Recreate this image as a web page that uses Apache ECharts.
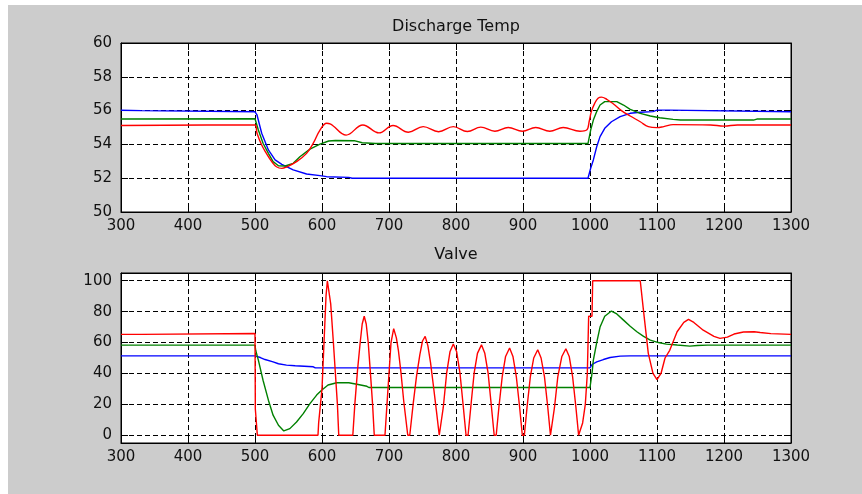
<!DOCTYPE html>
<html><head><meta charset="utf-8">
<script src="https://cdn.jsdelivr.net/npm/echarts@6/dist/echarts.min.js"></script>
<style>
html,body{margin:0;padding:0;background:#fff;}
#wrap{position:relative;width:862px;height:494px;background:#fff;overflow:hidden}
#chart{position:absolute;left:8px;top:5px;width:854px;height:489px;background:#cccccc}
</style></head>
<body><div id="wrap"><div id="chart"></div></div>
<script>
// ---- data (time, value) ----
const plotTitles = ['Discharge Temp', 'Valve'];
const timeRange = [300, 1300];
const tempRange = [50, 60];
const valveRange = [-5, 105];
const valveTicks = [0, 20, 40, 60, 80, 100];

const tempBlue = [[300,56.02],[330,56.0],[332,55.93],[500,55.93],[503,55.74],[510,54.66],[520,53.67],[530,53.08],[540,52.82],[557,52.49],[577,52.25],[597,52.15],[607,52.09],[640,52.05],[645,52.0],[997,52.0],[1001,52.59],[1005,53.08],[1010,53.86],[1015,54.46],[1022,54.95],[1032,55.34],[1045,55.64],[1060,55.84],[1075,55.9],[1094,55.94],[1100,56.03],[1118,56.03],[1120,55.93],[1300,55.93]];
const tempGreen = [[300,55.5],[500,55.52],[505,54.85],[512,54.07],[520,53.47],[527,52.98],[535,52.74],[545,52.72],[557,52.88],[567,53.27],[582,53.72],[597,54.02],[610,54.2],[620,54.23],[648,54.22],[660,54.1],[680,54.05],[997,54.05],[1001,54.85],[1005,55.44],[1010,55.94],[1015,56.33],[1022,56.53],[1040,56.53],[1050,56.33],[1060,56.07],[1075,55.84],[1090,55.68],[1104,55.58],[1124,55.48],[1135,55.44],[1244,55.44],[1249,55.5],[1300,55.5]];
const tempRed = [[300,55.12],[490,55.15],[500,55.15],[503,54.66],[510,53.96],[517,53.47],[525,52.98],[532,52.68],[540,52.58],[547,52.66],[562,52.98],[577,53.47],[587,54.07],[597,54.85],[607,55.25],[612,55.22],[636,54.55],[661,55.15],[685,54.68],[706,55.12],[729,54.72],[751,55.05],[774,54.75],[796,55.05],[817,54.76],[837,55.02],[858,54.78],[878,55.0],[899,54.78],[919,55.0],[940,54.78],[960,55.0],[985,54.78],[995,54.85],[999,55.4],[1002,55.94],[1007,56.43],[1012,56.73],[1017,56.8],[1025,56.67],[1035,56.39],[1047,56.0],[1060,55.68],[1075,55.34],[1087,55.05],[1100,54.99],[1110,55.05],[1124,55.17],[1180,55.15],[1200,55.08],[1220,55.15],[1300,55.15]];

const valveBlue = [[300,51.4],[500,51.4],[508,50.3],[515,49],[527,47.5],[535,46.3],[547,45.4],[560,45],[587,44.3],[590,43.6],[1000,43.6],[1003,45.8],[1010,47.5],[1020,49],[1030,50.3],[1045,51.2],[1060,51.4],[1300,51.4]];
const valveGreen = [[300,58.3],[500,58.3],[501,55],[505,48.6],[512,35.6],[520,22.7],[527,13],[535,6.5],[543,2.8],[552,4.3],[562,8.6],[572,14],[582,20.5],[592,26],[599,29],[609,32.5],[622,34],[640,34],[652,33],[667,31.7],[670,30.9],[1000,30.9],[1003,40],[1005,48.6],[1010,60],[1015,70],[1022,77],[1032,80.4],[1040,78.5],[1050,74.5],[1060,70.5],[1070,67],[1080,64],[1090,61.6],[1102,60],[1114,59],[1130,58.4],[1149,57.7],[1160,58.1],[1175,58.3],[1300,58.3]];
const valveRed = [[300,65.3],[331,65.3],[332,65.9],[500,65.9],[500.5,17],[503,17],[503.5,0],[594,0],[595,8],[597,8],
  [600,30],[603,60],[606,90],[608,100],[610,100],[613,85],[617,60],[620,40],[623,20],[625,0],
  [646,0],[649,20],[653,42],[657,60],[660,72],[663,77],[666,72],[669,60],[672,42],[675.5,20],[678,0],
  [694,0],[697,20],[700,40],[703,60],[707,69],[711,63],[714,55],[718,40],[722,22],[728,0],
  [731,0],[736,20],[741,38],[746,52],[750,61],[754,64],[758,58],[762,47],[766,33],[771,15],[775,0],
  [777,0],[781,18],[786,40],[791,54],[796,59],[801,54],[806,40],[811,18],[815,0],
  [818,0],[822,18],[827,40],[832,53],[838,58.5],[843,53],[848,40],[853,18],[857,0],
  [860,0],[864,18],[869,38],[874,51],[880,56.5],[885,51],[890,38],[895,18],[899,0],
  [902,0],[906,18],[911,38],[916,50],[922,55.3],[927,50],[932,38],[937,18],[941,0],
  [943,0],[947,18],[952,38],[958,51],[964,56],[969,51],[974,38],[979,18],[983,0],
  [985,0],[989,8],[993,20],[996,40],[998,77],[1003,77],[1004,100],[1075,100],[1080,80],[1087,53],[1094,40],[1100,36],[1106,40],[1112,50],[1119,55],[1130,67],[1140,73],[1147,75],[1155,73],[1169,68],[1185,64],[1194,62.7],[1205,63.5],[1215,65.5],[1229,66.8],[1245,67],[1254,66.5],[1270,65.8],[1300,65.3]];

const colors = {blue:'#0000ff', green:'#008000', red:'#ff0000'};

// ---- chart ----
const FONT = 'DejaVu Sans';
const OX = 8, OY = 5; // offset of chart div inside the page
const grids = [
  {left: 121 - OX, top: 43 - OY, width: 670, height: 169},
  {left: 121 - OX, top: 273 - OY, width: 670, height: 170}
];
const axisLineStyle = {color:'#000', width:1};
const dash = [5, 3];
const plain = v => String(v);

function makeX(gridIndex) {
  return [
    {type:'value', gridIndex, min:timeRange[0], max:timeRange[1], interval:100, position:'bottom',
     axisLine:{show:true, onZero:false, lineStyle:axisLineStyle},
     axisTick:{show:true, inside:true, length:7, lineStyle:axisLineStyle},
     axisLabel:{show:true, color:'#111', fontFamily:FONT, fontSize:15, margin:7, showMinLabel:true, showMaxLabel:true, formatter:plain},
     splitLine:{show:true, lineStyle:{color:'#000', width:1, type:dash}}},
    {type:'value', gridIndex, min:timeRange[0], max:timeRange[1], interval:100, position:'top',
     axisLine:{show:true, onZero:false, lineStyle:axisLineStyle},
     axisTick:{show:true, inside:true, length:7, lineStyle:axisLineStyle},
     axisLabel:{show:false}, splitLine:{show:false}}
  ];
}
function makeY(gridIndex, range, extra) {
  const base = {type:'value', gridIndex, min:range[0], max:range[1]};
  return [
    Object.assign({}, base, extra.main, {position:'left',
     axisLine:{show:true, onZero:false, lineStyle:axisLineStyle},
     axisTick:Object.assign({show:true, inside:true, length:7, lineStyle:axisLineStyle}, extra.tick),
     axisLabel:Object.assign({show:true, color:'#111', fontFamily:FONT, fontSize:15, margin:9, showMinLabel:true, showMaxLabel:true, formatter:plain}, extra.label),
     splitLine:{show:true, lineStyle:{color:'#000', width:1, type:dash}}}),
    Object.assign({}, base, extra.main, {position:'right',
     axisLine:{show:true, onZero:false, lineStyle:axisLineStyle},
     axisTick:Object.assign({show:true, inside:true, length:7, lineStyle:axisLineStyle}, extra.tick),
     axisLabel:{show:false}, splitLine:{show:false}})
  ];
}

const xAxis = makeX(0).concat(makeX(1));
const yAxis = makeY(0, tempRange, {main:{interval:2}, tick:{}, label:{}})
  .concat(makeY(1, valveRange, {main:{}, tick:{customValues:valveTicks}, label:{customValues:valveTicks}}));

function line(data, color, xi, yi, smooth) {
  return {type:'line', data, xAxisIndex:xi, yAxisIndex:yi, showSymbol:false, symbol:'none',
    smooth: smooth || false,
    lineStyle:{color, width:1.4}, itemStyle:{color}, animation:false, clip:true, silent:true};
}

const chart = echarts.init(document.getElementById('chart'));
chart.setOption({
  animation:false,
  backgroundColor:'#cccccc',
  title: [
    {text:plotTitles[0], left:456 - OX, top:19 - OY, textAlign:'center', padding:0,
     textStyle:{fontFamily:FONT, fontSize:16, fontWeight:'normal', color:'#111'}},
    {text:plotTitles[1], left:456 - OX, top:247 - OY, textAlign:'center', padding:0,
     textStyle:{fontFamily:FONT, fontSize:16, fontWeight:'normal', color:'#111'}}
  ],
  grid: grids.map(g => Object.assign({show:true, backgroundColor:'#ffffff', borderColor:'#000', borderWidth:1, containLabel:false}, g)),
  xAxis, yAxis,
  series: [
    line(tempBlue, colors.blue, 0, 0),
    line(tempGreen, colors.green, 0, 0),
    line(tempRed, colors.red, 0, 0, 0.4),
    line(valveBlue, colors.blue, 2, 2),
    line(valveGreen, colors.green, 2, 2),
    line(valveRed, colors.red, 2, 2)
  ]
});
</script></body></html>
